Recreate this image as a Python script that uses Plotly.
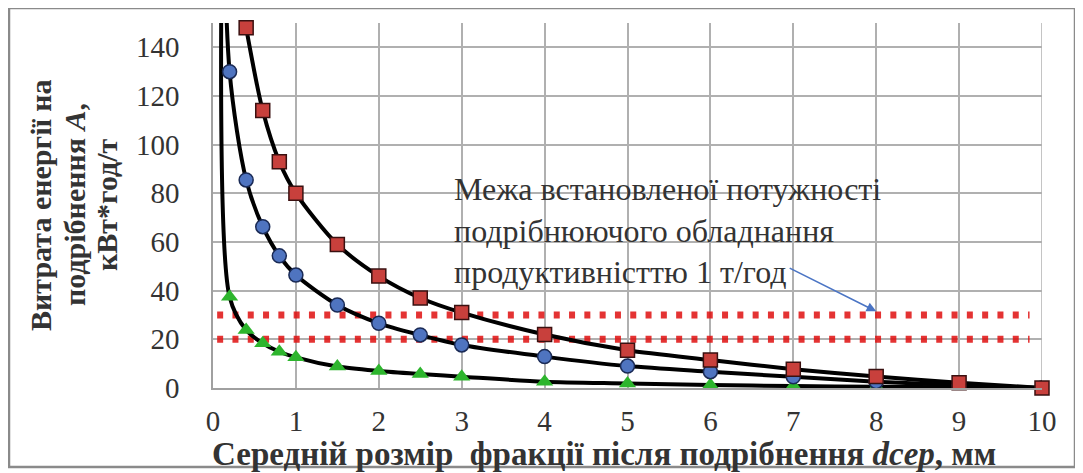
import plotly.graph_objects as go

# ---- data ----
red_x = [0.4, 0.6, 0.8, 1, 1.5, 2, 2.5, 3, 4, 5, 6, 7, 8, 9, 10]
red_y = [148, 114, 93, 80, 59, 46, 37, 31, 22, 15.5, 11.5, 7.7, 4.7, 2.2, 0]

blue_x = [0.1, 0.2, 0.4, 0.6, 0.8, 1, 1.5, 2, 2.5, 3, 4, 5, 6, 7, 8, 9, 10]
blue_y = [260, 130, 85.5, 66.3, 54.3, 46.4, 34.1, 26.6, 21.8, 17.7, 12.9, 9.0, 6.7, 4.6, 2.6, 1.2, 0]

green_x = [0.1, 0.2, 0.4, 0.6, 0.8, 1, 1.5, 2, 2.5, 3, 4, 5, 6, 7, 8, 9, 10]
green_y = [160, 37.5, 23.8, 18.4, 14.9, 12.6, 8.8, 7.0, 5.75, 4.65, 2.6, 1.9, 1.2, 0.8, 0.5, 0.3, 0]

limit_x = [0.05, 9.85]
limit_upper = [30, 30]
limit_lower = [20, 20]

x_ticks = [0, 1, 2, 3, 4, 5, 6, 7, 8, 9, 10]
y_ticks = [0, 20, 40, 60, 80, 100, 120, 140]

note_text = ("Межа встановленої потужності<br>"
             "подрібнюючого обладнання<br>"
             "продуктивністтю 1 т/год")
x_title = "Середній розмір  фракції після подрібнення <i>dcep</i>, мм"
y_title_lines = ["Витрата енергії на", "подрібнення <i>A</i>,", "кВт*год/т"]

SERIF = "Times New Roman, Liberation Serif, Noto Serif, DejaVu Serif, serif"

# page body has an 8px margin: the figure is placed at (8, 8) in the window
W, H = 1075, 465
PL, PR, PT, PB = 205, 41, 15, 85  # plot area 829 x 365

fig = go.Figure()

for yy in (limit_upper, limit_lower):
    fig.add_trace(go.Scatter(
        x=limit_x, y=yy, mode="lines",
        line=dict(color="#e01010", width=7, dash="6px,9.3px"),
        opacity=0.85, hoverinfo="skip", showlegend=False))

fig.add_trace(go.Scatter(
    x=green_x, y=green_y, mode="lines+markers",
    line=dict(color="black", width=4, shape="spline", smoothing=0.8),
    marker=dict(symbol="triangle-up", size=15, color="#2db52d",
                line=dict(width=0)),
    showlegend=False))

fig.add_trace(go.Scatter(
    x=blue_x, y=blue_y, mode="lines+markers",
    line=dict(color="black", width=4, shape="spline", smoothing=0.8),
    marker=dict(symbol="circle", size=14, color="#4f74c0",
                line=dict(width=1.5, color="#1a2a55")),
    showlegend=False))

fig.add_trace(go.Scatter(
    x=red_x, y=red_y, mode="lines+markers",
    line=dict(color="black", width=4, shape="spline", smoothing=0.8),
    marker=dict(symbol="square", size=14, color="#c8403c",
                line=dict(width=1.5, color="#3a1010")),
    cliponaxis=False,
    showlegend=False))

fig.update_layout(
    width=W, height=H,
    margin=dict(l=PL, r=PR, t=PT, b=PB, autoexpand=False),
    paper_bgcolor="white", plot_bgcolor="white",
    font=dict(family=SERIF, color="#333333"),
    xaxis=dict(range=[0, 10], tickvals=x_ticks, showgrid=True,
               gridcolor="#b0b0b0", gridwidth=1.5, zeroline=False,
               showline=True, linecolor="#a0a0a0", linewidth=1.5,
               ticks="", tickfont=dict(size=29, family=SERIF, color="#333333"),
               ticklabelstandoff=6),
    yaxis=dict(range=[0, 150], tickvals=y_ticks, showgrid=True,
               gridcolor="#b0b0b0", gridwidth=1.5, zeroline=False,
               showline=True, linecolor="#a0a0a0", linewidth=1.5,
               ticks="", tickfont=dict(size=29, family=SERIF, color="#333333"),
               ticklabelstandoff=26),
)

# right edge gridline at x = 10
fig.add_shape(type="line", xref="x", yref="paper", x0=10, x1=10, y0=0, y1=1,
              line=dict(color="#b0b0b0", width=1.5), layer="below")

# outer frame (reference pixel coords -> paper)
def px2paper_x(px):
    return (px - 213) / 829

def px2paper_y(py):
    return (388 - py) / 365

fig.add_shape(type="rect", xref="paper", yref="paper",
              x0=px2paper_x(9), x1=px2paper_x(1075),
              y0=px2paper_y(467), y1=px2paper_y(8),
              line=dict(color="#8a8a8a", width=2.5))

fig.add_annotation(
    text=note_text, xref="x", yref="y", x=2.88, y=90,
    xanchor="left", yanchor="top", align="left", showarrow=False,
    font=dict(size=32, family=SERIF, color="#333333"))

fig.add_annotation(
    text="", xref="x", yref="y", x=8.0, y=31.5,
    ax=-88, ay=-44, showarrow=True, arrowhead=2, arrowsize=1.2,
    arrowwidth=1.6, arrowcolor="#4a74c4")

fig.add_annotation(
    text="<b>" + x_title + "</b>", xref="paper", yref="paper",
    x=px2paper_x(604), y=px2paper_y(454),
    xanchor="center", yanchor="middle", showarrow=False,
    font=dict(size=33, family=SERIF, color="#333333"))

for line_text, col_px in zip(y_title_lines, [41, 75, 107]):
    fig.add_annotation(
        text="<b>" + line_text + "</b>", xref="paper", yref="paper",
        x=px2paper_x(col_px), y=px2paper_y(205), textangle=-90,
        xanchor="center", yanchor="middle", showarrow=False,
        font=dict(size=30, family=SERIF, color="#333333"))

fig.write_html("out.html")
